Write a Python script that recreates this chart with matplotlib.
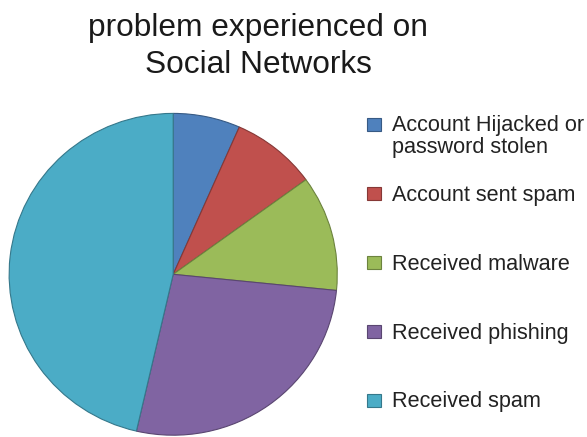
import matplotlib.pyplot as plt
from matplotlib.patches import Rectangle
from matplotlib.colors import to_rgb

plt.rcParams['font.family'] = ['Liberation Sans', 'DejaVu Sans']

labels = ['Account Hijacked or\npassword stolen', 'Account sent spam',
          'Received malware', 'Received phishing', 'Received spam']
shares = [6.6, 8.4, 11.6, 27.0, 46.4]
colors = ['#4F81BD', '#C0504D', '#9BBB59', '#8064A2', '#4BACC6']

W, H = 587, 437
fig = plt.figure(figsize=(W / 100, H / 100), dpi=100)

# pie area in pixels: centre (173, 274), radii 165 x 162
cx, cy, rx, ry = 173.2, 274.3, 164.9, 161.7
ax = fig.add_axes([(cx - rx) / W, (H - cy - ry) / H, 2 * rx / W, 2 * ry / H])
wedges, _ = ax.pie(shares, colors=colors, startangle=90, counterclock=False,
                   radius=1, frame=False)
for w, c in zip(wedges, colors):
    r, g, b = to_rgb(c)
    w.set_edgecolor((r * 0.7, g * 0.7, b * 0.7))
    w.set_linewidth(0.8)
ax.set_aspect('auto')
ax.set_xlim(-1.005, 1.005)
ax.set_ylim(-1.005, 1.005)
ax.axis('off')

fig.text(258 / W, 1 - 72.7 / H, 'problem experienced on\nSocial Networks',
         ha='center', va='baseline', fontsize=22.8, color='#1a1a1a',
         linespacing=1.3, multialignment='center')

# legend rows
for i, (lab, c) in enumerate(zip(labels, colors)):
    base = 131.5 + 69 * i
    r, g, b = to_rgb(c)
    fig.patches.append(Rectangle((367 / W, 1 - (base - 0.5) / H), 13.5 / W, 13.5 / H,
                                 transform=fig.transFigure, facecolor=c,
                                 edgecolor=(r * 0.7, g * 0.7, b * 0.7), linewidth=0.8))
    fig.text(392 / W, 1 - base / H, lab.split('\n')[0], ha='left', va='baseline',
             fontsize=15.6, color='#222222')
    if '\n' in lab:
        fig.text(392 / W, 1 - (base + 21) / H, lab.split('\n')[1], ha='left',
                 va='baseline', fontsize=15.6, color='#222222')

fig.savefig('out.png', dpi=100)
